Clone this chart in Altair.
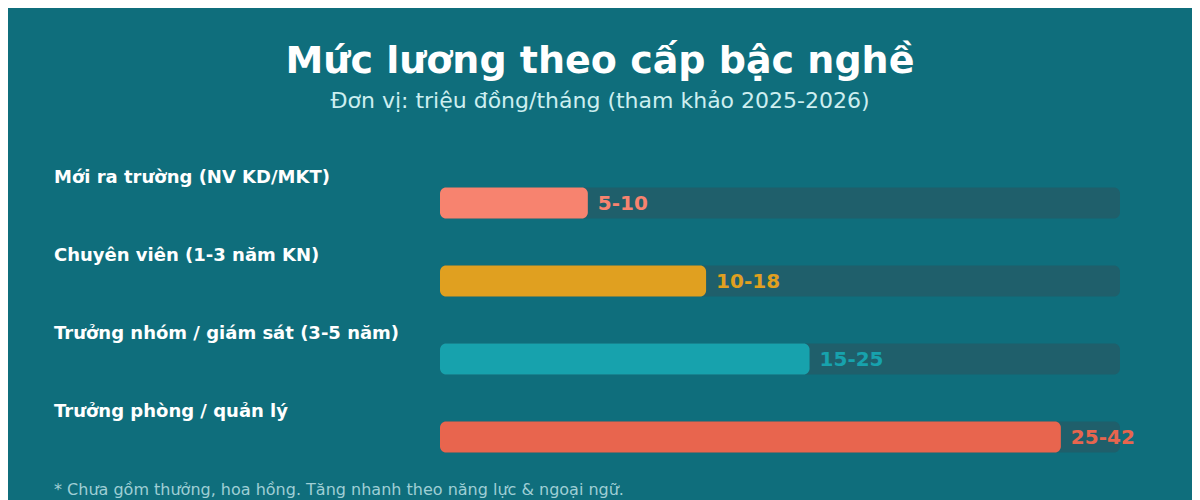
import altair as alt
import pandas as pd

# data
levels = [
    "Mới ra trường (NV KD/MKT)",
    "Chuyên viên (1-3 năm KN)",
    "Trưởng nhóm / giám sát (3-5 năm)",
    "Trưởng phòng / quản lý",
]
salary_low = [5, 10, 15, 25]
salary_high = [10, 18, 25, 42]
scale_max = 46
bar_colors = ["#f7836f", "#e0a020", "#17a2ad", "#e8654e"]

BG = "#0f6e7c"
TRACK = "#1f5f6b"
FONT = "DejaVu Sans"

df = pd.DataFrame(
    {
        "level": levels,
        "low": salary_low,
        "high": salary_high,
        "label": [f"{a}-{b}" for a, b in zip(salary_low, salary_high)],
        "track_end": [scale_max] * len(levels),
        "zero": [0] * len(levels),
    }
)

x_scale = alt.Scale(domain=[0, scale_max], range=[432, 1112])
y_scale = alt.Scale(domain=levels, type="point", padding=0, range=[195, 429])
color_scale = alt.Scale(domain=levels, range=bar_colors)

base = alt.Chart(df).encode(
    y=alt.Y("level:N", scale=y_scale, axis=None, sort=levels),
)

track = base.mark_bar(size=31, cornerRadius=6, color=TRACK).encode(
    x=alt.X("zero:Q", scale=x_scale, axis=None),
    x2="track_end:Q",
)

bars = base.mark_bar(size=31, cornerRadius=6).encode(
    x=alt.X("zero:Q", scale=x_scale, axis=None),
    x2="high:Q",
    color=alt.Color("level:N", scale=color_scale, legend=None),
)

values = base.mark_text(
    align="left", baseline="middle", dx=10, dy=1, font=FONT, fontSize=20, fontWeight="bold"
).encode(
    x=alt.X("high:Q", scale=x_scale, axis=None),
    text="label:N",
    color=alt.Color("level:N", scale=color_scale, legend=None),
)

names = base.mark_text(
    align="left", baseline="alphabetic", dy=-20, font=FONT, fontSize=18,
    fontWeight="bold", color="white",
).encode(x=alt.value(46), text="level:N")

head = pd.DataFrame(
    {
        "txt": [
            "Mức lương theo cấp bậc nghề",
            "Đơn vị: triệu đồng/tháng (tham khảo 2025-2026)",
        ]
    }
)
title = alt.Chart(head.iloc[[0]]).mark_text(
    align="center", baseline="alphabetic", font=FONT, fontSize=38,
    fontWeight="bold", color="white",
).encode(x=alt.value(592), y=alt.value(65), text="txt:N")
subtitle = alt.Chart(head.iloc[[1]]).mark_text(
    align="center", baseline="alphabetic", font=FONT, fontSize=22, color="#cdeef0",
).encode(x=alt.value(592), y=alt.value(100), text="txt:N")

note = alt.Chart(
    pd.DataFrame({"txt": ["* Chưa gồm thưởng, hoa hồng. Tăng nhanh theo năng lực & ngoại ngữ."]})
).mark_text(
    align="left", baseline="alphabetic", font=FONT, fontSize=16, color="#9fcfd5",
).encode(x=alt.value(46), y=alt.value(487), text="txt:N")

chart = (
    alt.layer(track, bars, values, names, title, subtitle, note)
    .properties(width=1184, height=492, background=BG, padding=0, autosize="none")
    .configure_view(stroke=None)
)

chart.save("out.html", embed_options={"renderer": "svg", "actions": False})
